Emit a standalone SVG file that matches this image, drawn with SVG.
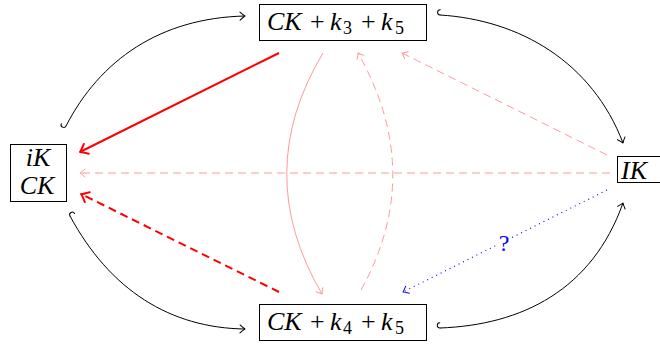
<svg xmlns="http://www.w3.org/2000/svg" width="660" height="345" viewBox="0 0 660 345">
<style>
.box{fill:#fff;stroke:#000;stroke-width:1}
.m{font-family:"Liberation Serif","DejaVu Serif",serif;font-size:26px;fill:#000}
.i{font-style:italic}
.s{font-size:18px}
.blk{fill:none;stroke:#000;stroke-width:1}
.red{fill:none;stroke:#ff0000;stroke-width:2}
.pink{fill:none;stroke:#ff9999;stroke-width:1}
.dash{stroke-dasharray:8 5}
.blue{fill:none;stroke:#0000ff;stroke-width:1.1;stroke-dasharray:1 4}
.mk{fill:none;stroke-dasharray:none;stroke-linecap:round;stroke-linejoin:round}
</style>
<defs>
<marker id="toK" markerUnits="userSpaceOnUse" orient="auto" overflow="visible" markerWidth="10" markerHeight="10">
<path class="mk" d="M-5,-4 Q-1.5,-0.8 0,0 Q-1.5,0.8 -5,4" stroke="#000" stroke-width="1"/>
</marker>
<marker id="hook" markerUnits="userSpaceOnUse" orient="auto" overflow="visible" markerWidth="10" markerHeight="10">
<path class="mk" d="M0,0 A2.6,2.6 0 0 1 0,-5.2" stroke="#000" stroke-width="1"/>
</marker>
<marker id="toR" markerUnits="userSpaceOnUse" orient="auto" overflow="visible" markerWidth="10" markerHeight="10">
<path class="mk" d="M-7,-5.5 Q-2,-1 0,0 Q-2,1 -7,5.5" stroke="#ff0000" stroke-width="2"/>
</marker>
<marker id="toP" markerUnits="userSpaceOnUse" orient="auto" overflow="visible" markerWidth="10" markerHeight="10">
<path class="mk" d="M-5,-4 Q-1.5,-0.8 0,0 Q-1.5,0.8 -5,4" stroke="#ff9999" stroke-width="1"/>
</marker>
<marker id="toB" markerUnits="userSpaceOnUse" orient="auto" overflow="visible" markerWidth="10" markerHeight="10">
<path class="mk" d="M-5,-4 Q-1.5,-0.8 0,0 Q-1.5,0.8 -5,4" stroke="#0000ff" stroke-width="1"/>
</marker>
</defs>
<rect width="660" height="345" fill="#fff"/>
<g id="connectors">
<path class="blk" d="M66,126 C100,60 160,18 245,16" marker-start="url(#hook)" marker-end="url(#toK)"/>
<path class="blk" d="M440,15 C520,20 592,62 623,143" marker-start="url(#hook)" marker-end="url(#toK)"/>
<path class="blk" d="M70,216 C110,290 170,328 245,329" marker-start="url(#hook)" marker-end="url(#toK)"/>
<path class="blk" d="M440,328 C522,325 592,290 623,203" marker-start="url(#hook)" marker-end="url(#toK)"/>
<path class="red" d="M279,53 L80,152" marker-end="url(#toR)"/>
<path class="red dash" d="M279,292 L81,194" marker-end="url(#toR)"/>
<path class="pink dash" d="M610,173 L80,173" marker-end="url(#toP)"/>
<path class="pink dash" d="M607,155 L402,53" marker-end="url(#toP)"/>
<path class="pink" d="M323,53 Q251,173 322,294" marker-end="url(#toP)"/>
<path class="pink dash" d="M361,290 Q426,173 358,53" marker-end="url(#toP)"/>
<path class="blue" d="M607,190 L403,292" marker-end="url(#toB)"/>
<rect x="497" y="233" width="14" height="19" fill="#fff"/>
<text x="504" y="251" text-anchor="middle" style="font-family:'Liberation Serif','DejaVu Serif',serif;font-size:24px;fill:#0000ff">?</text>
</g>
<g id="node-top">
<rect class="box" x="259.5" y="4.5" width="167" height="36"/>
<text class="m"><tspan class="i" x="267" y="30">CK</tspan><tspan x="310" y="30">+</tspan><tspan class="i" x="330" y="30">k</tspan><tspan class="s" x="343" y="34">3</tspan><tspan x="361" y="30">+</tspan><tspan class="i" x="381" y="30">k</tspan><tspan class="s" x="395" y="34">5</tspan></text>
</g>
<g id="node-bottom">
<rect class="box" x="259.5" y="304.5" width="167" height="36"/>
<text class="m"><tspan class="i" x="267" y="330">CK</tspan><tspan x="310" y="330">+</tspan><tspan class="i" x="330" y="330">k</tspan><tspan class="s" x="343" y="334">4</tspan><tspan x="361" y="330">+</tspan><tspan class="i" x="381" y="330">k</tspan><tspan class="s" x="395" y="334">5</tspan></text>
</g>
<g id="node-left">
<rect class="box" x="10.5" y="144.5" width="56" height="57"/>
<text class="m i" x="38" y="166" text-anchor="middle">iK</text>
<text class="m i" x="37" y="194" text-anchor="middle">CK</text>
</g>
<g id="node-right">
<rect class="box" x="617.5" y="156.5" width="60" height="26"/>
<text class="m i" x="621" y="179">IK</text>
</g>
</svg>
